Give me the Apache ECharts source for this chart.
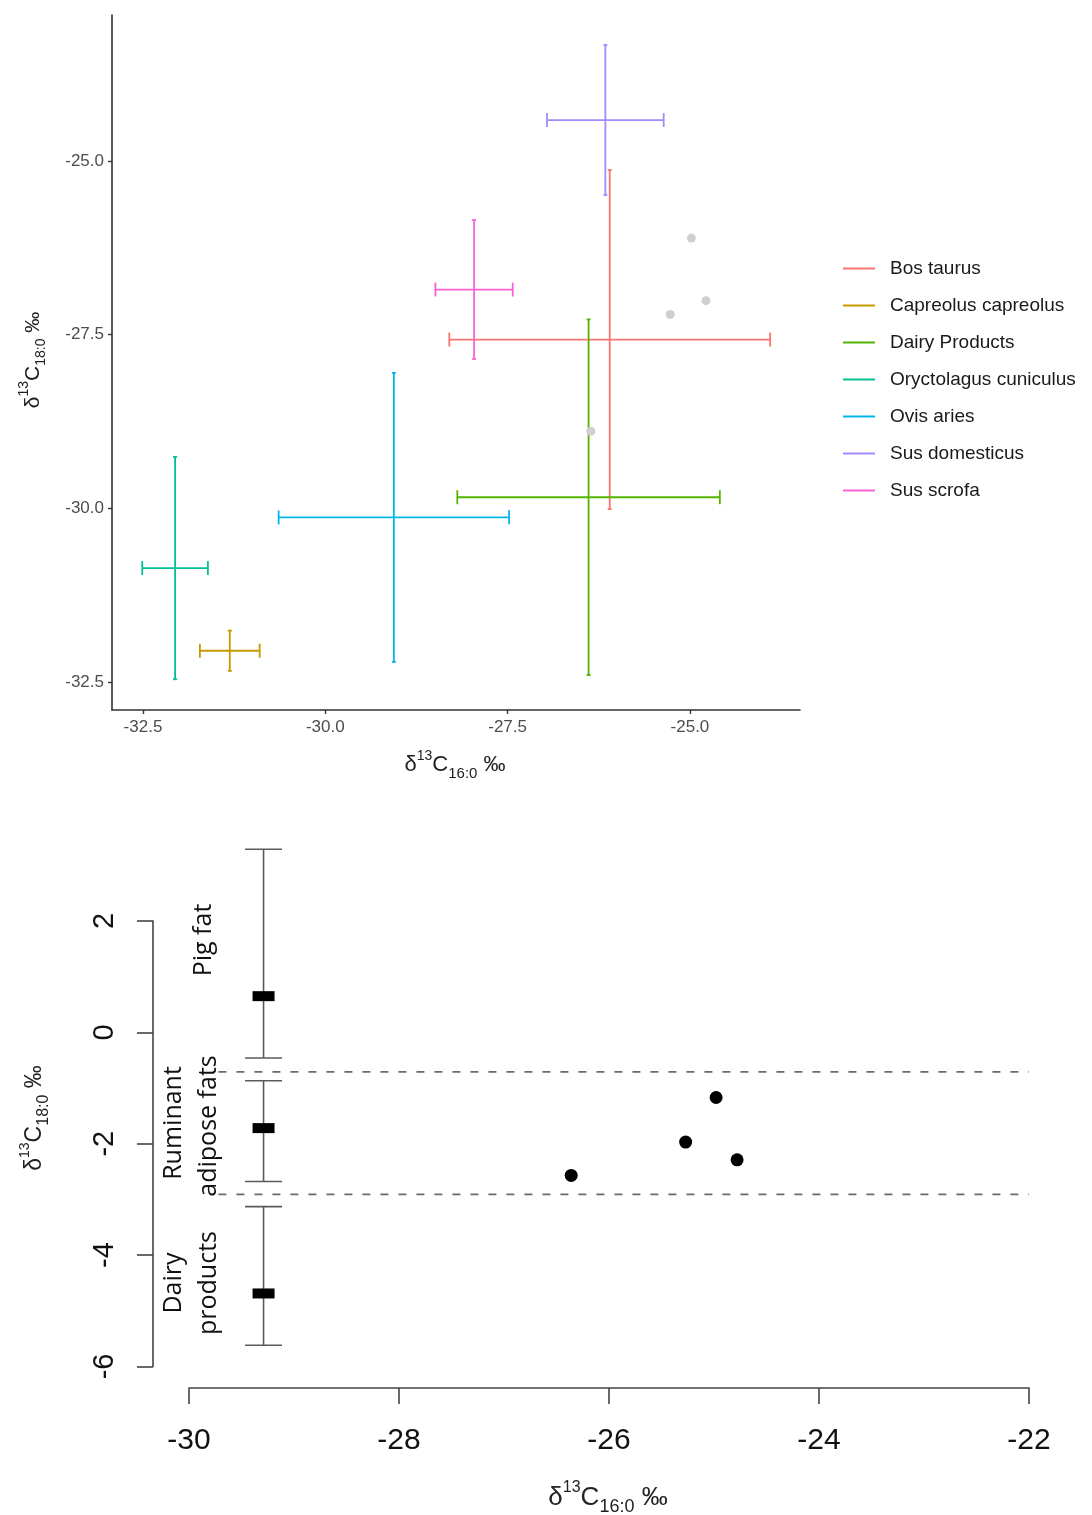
<!DOCTYPE html>
<html><head><meta charset="utf-8">
<script src="https://cdn.jsdelivr.net/npm/echarts@6/dist/echarts.min.js"></script>
<style>html,body{margin:0;padding:0;background:#fff}#c{width:1092px;height:1515px}</style>
</head><body><div id="c"></div>
<script>
// ---- data: top panel (mean ± sd of δ13C) ----
const species = ['Bos taurus','Capreolus capreolus','Dairy Products','Oryctolagus cuniculus','Ovis aries','Sus domesticus','Sus scrofa'];
const speciesColors = ['#F8766D','#C49A00','#53B400','#00C094','#00B6EB','#A58AFF','#FB61D7'];
const meanC16 = [-26.10,-31.31,-26.39,-32.06,-29.06,-26.16,-27.96];
const sdC16   = [2.20,0.41,1.80,0.45,1.58,0.80,0.53];
const meanC18 = [-27.57,-32.05,-29.84,-30.86,-30.13,-24.41,-26.85];
const sdC18   = [2.44,0.29,2.56,1.60,2.08,1.08,1.00];
// archaeological samples
const sampleC16 = [-26.36,-25.27,-24.98,-24.78];
const sampleC18 = [-28.89,-27.21,-26.11,-27.01];
const sampleBigDelta = [-2.57,-1.97,-1.17,-2.29];
const topTicks = [-32.5,-30.0,-27.5,-25.0];
// ---- data: bottom panel (reference ranges of Δ13C) ----
const refGroups = ['Dairy products','Ruminant adipose fats','Pig fat'];
const refX = -29.29;
const refLow  = [-5.62,-2.68,-0.46];
const refMean = [-4.69,-1.72,0.65];
const refHigh = [-3.13,-0.87,3.29];
const boundaries = [-0.71,-2.91];
const boundaryFrom = -29.72, boundaryTo = -22;
const bottomXTicks = [-30,-28,-26,-24,-22];
const bottomYTicks = [-6,-4,-2,0,2];

const chart = echarts.init(document.getElementById('c'), null, {renderer:'canvas'});
const SANS = "'Liberation Sans', Arial, sans-serif";

function seg(x1,y1,x2,y2,style){return {type:'line',shape:{x1,y1,x2,y2},style};}

const speciesSeries = species.map((name,i)=>({
  type:'custom', name, xAxisIndex:0, yAxisIndex:0, clip:false,
  itemStyle:{color:speciesColors[i]},
  data:[[meanC16[i], meanC18[i], sdC16[i], sdC18[i]]],
  renderItem(params, api){
    const x=api.value(0), y=api.value(1), dx=api.value(2), dy=api.value(3);
    const c=api.coord([x,y]), l=api.coord([x-dx,y]), r=api.coord([x+dx,y]);
    const t=api.coord([x,y+dy]), b=api.coord([x,y-dy]);
    const st={stroke:speciesColors[i], lineWidth:1.8};
    const cH=7, cV=2;
    return {type:'group', children:[
      seg(l[0],c[1],r[0],c[1],st),
      seg(l[0],c[1]-cH,l[0],c[1]+cH,st),
      seg(r[0],c[1]-cH,r[0],c[1]+cH,st),
      seg(c[0],t[1],c[0],b[1],st),
      seg(c[0]-cV,t[1],c[0]+cV,t[1],st),
      seg(c[0]-cV,b[1],c[0]+cV,b[1],st)
    ]};
  }
}));

const refSeries = {
  type:'custom', xAxisIndex:1, yAxisIndex:1, clip:false,
  data: refGroups.map((g,i)=>[refX, refLow[i], refMean[i], refHigh[i]]),
  renderItem(params, api){
    const x=api.value(0);
    const lo=api.coord([x,api.value(1)]), me=api.coord([x,api.value(2)]), hi=api.coord([x,api.value(3)]);
    const st={stroke:'#5a5a5a', lineWidth:1.6};
    const cap=18.5;
    return {type:'group', children:[
      seg(lo[0],lo[1],hi[0],hi[1],st),
      seg(lo[0]-cap,lo[1],lo[0]+cap,lo[1],st),
      seg(hi[0]-cap,hi[1],hi[0]+cap,hi[1],st),
      {type:'rect', shape:{x:me[0]-11,y:me[1]-5,width:22,height:10}, style:{fill:'#000'}}
    ]};
  }
};

const boundarySeries = boundaries.map(v=>({
  type:'line', xAxisIndex:1, yAxisIndex:1, clip:false, symbol:'none', silent:true,
  data:[[boundaryFrom,v],[boundaryTo,v]],
  lineStyle:{color:'#6a6a6a', width:1.6, type:[8,10]}
}));

function titleRich(main, sub, supS){
  return {
    a:{fontSize:main, fontFamily:SANS, lineHeight:main+10, verticalAlign:'middle', fill:'#222'},
    sup:{fontSize:supS, fontFamily:SANS, lineHeight:supS, verticalAlign:'top', fill:'#222'},
    sub:{fontSize:sub, fontFamily:SANS, lineHeight:sub, verticalAlign:'bottom', fill:'#222'}
  };
}
function titleText(lbl){return '{a|δ}{sup|13}{a|C}{sub|'+lbl+'}{a| ‰}';}

const option = {
  backgroundColor:'#fff',
  animation:false,
  grid:[
    {left:112, top:15, width:688, height:695},
    {left:189, top:921, width:840, height:445.4}
  ],
  xAxis:[
    {gridIndex:0, type:'value', min:-32.925, max:-23.491,
     splitLine:{show:false},
     axisLine:{onZero:false, lineStyle:{color:'#333', width:1.6}},
     axisTick:{customValues:topTicks, length:4, lineStyle:{color:'#333', width:1.4}},
     axisLabel:{customValues:topTicks, formatter:v=>v.toFixed(1), fontSize:17, color:'#4d4d4d', fontFamily:SANS, margin:9}},
    {gridIndex:1, type:'value', min:-30, max:-22, interval:2, offset:21.6,
     splitLine:{show:false},
     axisLine:{onZero:false, lineStyle:{color:'#444', width:1.6}},
     axisTick:{length:16, lineStyle:{color:'#444', width:1.6}},
     axisLabel:{fontSize:30, color:'#111', fontFamily:SANS, margin:38}}
  ],
  yAxis:[
    {gridIndex:0, type:'value', min:-32.903, max:-22.898,
     splitLine:{show:false},
     axisLine:{show:true, onZero:false, lineStyle:{color:'#333', width:1.6}},
     axisTick:{show:true, customValues:topTicks, length:4, lineStyle:{color:'#333', width:1.4}},
     axisLabel:{customValues:topTicks, formatter:v=>v.toFixed(1), fontSize:17, color:'#4d4d4d', fontFamily:SANS, margin:8}},
    {gridIndex:1, type:'value', min:-6, max:2, interval:2, offset:36,
     splitLine:{show:false},
     axisLine:{show:true, onZero:false, lineStyle:{color:'#444', width:1.6}},
     axisTick:{show:true, length:16, lineStyle:{color:'#444', width:1.6}},
     axisLabel:{rotate:90, fontSize:29, color:'#111', fontFamily:SANS, margin:34}}
  ],
  legend:{
    data:species, orient:'vertical', left:843, top:258, padding:0,
    icon:'rect', itemWidth:32, itemHeight:2, itemGap:16,
    textStyle:{fontSize:19, fontFamily:SANS, color:'#1a1a1a', lineHeight:21, padding:[0,0,0,10]}
  },
  series:[
    ...speciesSeries,
    {type:'scatter', xAxisIndex:0, yAxisIndex:0, symbolSize:9, silent:true,
     itemStyle:{color:'#cfcfcf', opacity:1},
     data:sampleC16.map((x,i)=>[x, sampleC18[i]])},
    ...boundarySeries,
    refSeries,
    {type:'scatter', xAxisIndex:1, yAxisIndex:1, symbolSize:13, clip:false, silent:true,
     itemStyle:{color:'#000', opacity:1},
     data:sampleC16.map((x,i)=>[x, sampleBigDelta[i]])}
  ],
  graphic:[
    {type:'text', x:455, y:765, style:{text:titleText('16:0'), rich:titleRich(22,15,14), align:'center', verticalAlign:'middle'}},
    {type:'text', x:33, y:360, rotation:Math.PI/2, style:{text:titleText('18:0'), rich:titleRich(21,14,14), align:'center', verticalAlign:'middle'}},
    {type:'text', x:608, y:1498, style:{text:titleText('16:0'), rich:titleRich(26,18,16), align:'center', verticalAlign:'middle'}},
    {type:'text', x:35, y:1118, rotation:Math.PI/2, style:{text:titleText('18:0'), rich:titleRich(23,16,14), align:'center', verticalAlign:'middle'}},
    {type:'text', x:204, y:940, rotation:Math.PI/2, style:{text:'Pig fat', font:"25px 'Open Sans', sans-serif", fill:'#111', align:'center', verticalAlign:'middle'}},
    {type:'text', x:174, y:1123, rotation:Math.PI/2, style:{text:'Ruminant', font:"25px 'Open Sans', sans-serif", fill:'#111', align:'center', verticalAlign:'middle'}},
    {type:'text', x:209, y:1126, rotation:Math.PI/2, style:{text:'adipose fats', font:"25px 'Open Sans', sans-serif", fill:'#111', align:'center', verticalAlign:'middle'}},
    {type:'text', x:174, y:1283, rotation:Math.PI/2, style:{text:'Dairy', font:"25px 'Open Sans', sans-serif", fill:'#111', align:'center', verticalAlign:'middle'}},
    {type:'text', x:209, y:1283, rotation:Math.PI/2, style:{text:'products', font:"25px 'Open Sans', sans-serif", fill:'#111', align:'center', verticalAlign:'middle'}}
  ]
};
chart.setOption(option);
</script>
</body></html>
